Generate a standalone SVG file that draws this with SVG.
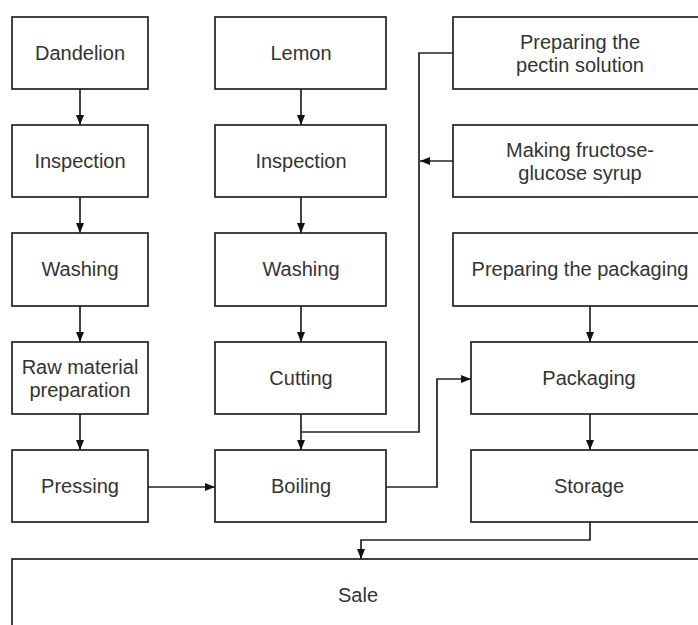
<svg xmlns="http://www.w3.org/2000/svg" width="698" height="625" viewBox="0 0 698 625">
<defs>
<style>
.box{fill:#fff;stroke:#222;stroke-width:1.7}
.t{font-family:"Liberation Sans",Arial,sans-serif;font-size:20px;fill:#333;text-anchor:middle;dominant-baseline:central}
.c{fill:none;stroke:#222;stroke-width:1.7}
</style>
<marker id="a" viewBox="0 0 10 10" refX="10" refY="5" markerWidth="10" markerHeight="10" markerUnits="userSpaceOnUse" orient="auto">
<path d="M0,1 L10,5 L0,9 Z" fill="#111"/>
</marker>
</defs>
<rect width="698" height="625" fill="#fff"/>
<g id="dandelion"><rect class="box" x="12" y="17" width="136" height="72"/><text class="t" x="80" y="53">Dandelion</text></g>
<g id="inspection1"><rect class="box" x="12" y="125" width="136" height="72"/><text class="t" x="80" y="161">Inspection</text></g>
<g id="washing1"><rect class="box" x="12" y="233" width="136" height="73"/><text class="t" x="80" y="269">Washing</text></g>
<g id="raw"><rect class="box" x="12" y="342" width="136" height="72"/><text class="t" x="80" y="366.5">Raw material</text><text class="t" x="80" y="390">preparation</text></g>
<g id="pressing"><rect class="box" x="12" y="450" width="136" height="72"/><text class="t" x="80" y="486">Pressing</text></g>
<g id="lemon"><rect class="box" x="215" y="17" width="171" height="72"/><text class="t" x="301" y="53">Lemon</text></g>
<g id="inspection2"><rect class="box" x="215" y="125" width="171" height="72"/><text class="t" x="301" y="161">Inspection</text></g>
<g id="washing2"><rect class="box" x="215" y="233" width="171" height="73"/><text class="t" x="301" y="269">Washing</text></g>
<g id="cutting"><rect class="box" x="215" y="342" width="171" height="72"/><text class="t" x="301" y="378">Cutting</text></g>
<g id="boiling"><rect class="box" x="215" y="450" width="171" height="72"/><text class="t" x="301" y="486">Boiling</text></g>
<g id="pectin"><rect class="box" x="453" y="17" width="254" height="72"/><text class="t" x="580" y="41.5">Preparing the</text><text class="t" x="580" y="65">pectin solution</text></g>
<g id="syrup"><rect class="box" x="453" y="125" width="254" height="72"/><text class="t" x="580" y="149.5">Making fructose-</text><text class="t" x="580" y="173">glucose syrup</text></g>
<g id="prepack"><rect class="box" x="453" y="233" width="254" height="73"/><text class="t" x="580" y="269">Preparing the packaging</text></g>
<g id="packaging"><rect class="box" x="471" y="342" width="236" height="72"/><text class="t" x="589" y="378">Packaging</text></g>
<g id="storage"><rect class="box" x="471" y="450" width="236" height="72"/><text class="t" x="589" y="486">Storage</text></g>
<g id="sale"><rect class="box" x="12" y="559" width="692" height="72"/><text class="t" x="358" y="595">Sale</text></g>
<g id="connectors">
<path class="c" d="M80,89 V125" marker-end="url(#a)"/>
<path class="c" d="M80,197 V233" marker-end="url(#a)"/>
<path class="c" d="M80,306 V342" marker-end="url(#a)"/>
<path class="c" d="M80,414 V450" marker-end="url(#a)"/>
<path class="c" d="M148,487 H215" marker-end="url(#a)"/>
<path class="c" d="M301,89 V125" marker-end="url(#a)"/>
<path class="c" d="M301,197 V233" marker-end="url(#a)"/>
<path class="c" d="M301,306 V342" marker-end="url(#a)"/>
<path class="c" d="M301,414 V450" marker-end="url(#a)"/>
<path class="c" d="M453,53 H419 V432 H301"/>
<path class="c" d="M453,161 H420" marker-end="url(#a)"/>
<path class="c" d="M386,487 H437 V379 H471" marker-end="url(#a)"/>
<path class="c" d="M590,306 V342" marker-end="url(#a)"/>
<path class="c" d="M590,414 V450" marker-end="url(#a)"/>
<path class="c" d="M590,522 V540 H361 V559" marker-end="url(#a)"/>
</g>
</svg>
